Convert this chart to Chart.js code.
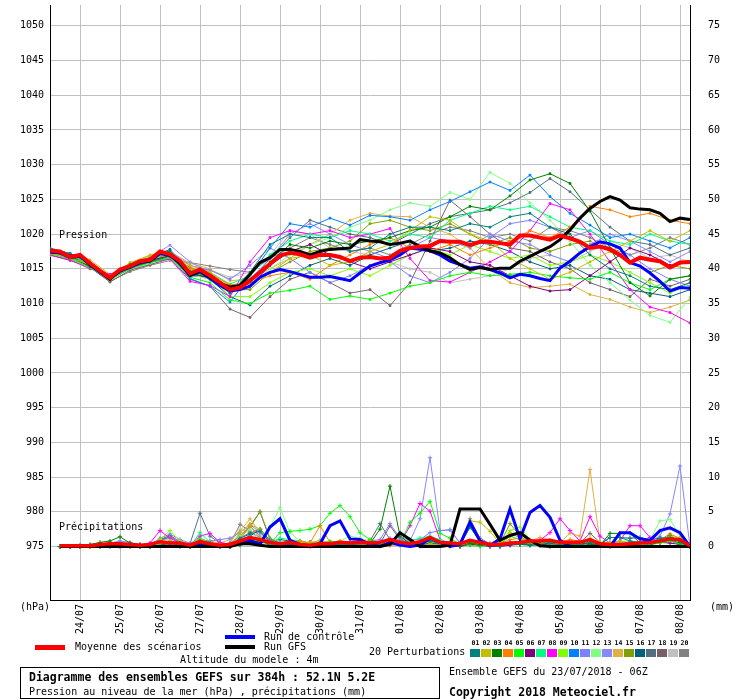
<!DOCTYPE html>
<html>
<head>
<meta charset="utf-8">
<script src="https://cdn.jsdelivr.net/npm/chart.js@4.4.0/dist/chart.umd.min.js"></script>
<style>
body { margin: 0; background: #fff; }
#cadre { position: relative; width: 740px; height: 700px; font-family: "DejaVu Sans Mono", monospace; font-size: 10px; color: #000; }
#cadre canvas { position: absolute; left: 0; top: 0; }
.t { position: absolute; white-space: pre; line-height: 12px; }
.b { font-weight: bold; font-size: 11.5px; line-height: 14px; }
.trait { position: absolute; }
#boite { position: absolute; left: 20px; top: 667px; width: 418px; height: 30px; border: 1px solid #000; }
.num { position: absolute; top: 639px; width: 11px; text-align: center; font-size: 6.5px; font-weight: bold; line-height: 8px; }
.case { position: absolute; top: 649px; width: 10px; height: 8px; }
</style>
</head>
<body>
<div id="cadre">
  <canvas id="graphe" width="740" height="700"></canvas>
  <div class="t" style="left:59px;top:229px">Pression</div>
  <div class="t" style="left:59px;top:521px">Précipitations</div>
  <div class="t" style="left:20px;top:601px">(hPa)</div>
  <div class="t" style="left:710px;top:601px">(mm)</div>
  <div class="trait" style="left:225px;top:635px;width:30px;height:4px;background:#0000ff"></div>
  <div class="t" style="left:264px;top:631px">Run de contrôle</div>
  <div class="trait" style="left:35px;top:645px;width:30px;height:5px;background:#ff0000"></div>
  <div class="t" style="left:75px;top:641px">Moyenne des scénarios</div>
  <div class="trait" style="left:225px;top:645px;width:30px;height:4px;background:#000"></div>
  <div class="t" style="left:264px;top:641px">Run GFS</div>
  <div class="t" style="left:180px;top:654px">Altitude du modele : 4m</div>
  <div class="t" style="left:369px;top:646px">20 Perturbations</div>
  <div id="legende"></div>
  <div id="boite"></div>
  <div class="t b" style="left:29px;top:670px">Diagramme des ensembles GEFS sur 384h : 52.1N 5.2E</div>
  <div class="t" style="left:29px;top:686px">Pression au niveau de la mer (hPa) , précipitations (mm)</div>
  <div class="t" style="left:449px;top:666px">Ensemble GEFS du 23/07/2018 - 06Z</div>
  <div class="t b" style="left:449px;top:685px">Copyright 2018 Meteociel.fr</div>
</div>
<script>
// ===============================
// DONNEES
// ===============================
const jours = ["24/07","25/07","26/07","27/07","28/07","29/07","30/07","31/07",
               "01/08","02/08","03/08","04/08","05/08","06/08","07/08","08/08"];
const heuresJours = [18,42,66,90,114,138,162,186,210,234,258,282,306,330,354,378];
const ticksPression = [975,980,985,990,995,1000,1005,1010,1015,1020,1025,1030,1035,1040,1045,1050];
const ticksPrecip = [0,5,10,15,20,25,30,35,40,45,50,55,60,65,70,75];

// echeances toutes les 6h et toutes les 12h
const heures6 = [0,6,12,18,24,30,36,42,48,54,60,66,72,78,84,90,96,102,108,114,120,126,132,138,144,150,
  156,162,168,174,180,186,192,198,204,210,216,222,228,234,240,246,252,258,264,270,276,282,288,294,
  300,306,312,318,324,330,336,342,348,354,360,366,372,378,384];
const heures12 = [0,12,24,36,48,60,72,84,96,108,120,132,144,156,168,180,192,204,216,228,240,252,264,
  276,288,300,312,324,336,348,360,372,384];

// Moyenne, controle et GFS (pression, 6h)
const presMoyenne = [1017.6,1017.5,1016.7,1017.0,1015.8,1014.7,1013.7,1014.9,1015.4,1016.1,1016.3,1017.5,1017.1,
  1016.1,1014.3,1014.9,1014.0,1013.0,1012.0,1012.3,1013.3,1014.5,1015.7,1016.9,1017.3,1017.1,1016.6,1017.0,
  1017.0,1016.7,1016.1,1016.6,1016.7,1016.5,1016.6,1017.6,1018.0,1018.2,1018.3,1019.0,1018.9,1018.9,1018.4,
  1018.9,1018.9,1018.7,1018.5,1019.8,1019.8,1019.5,1019.2,1019.8,1019.4,1018.9,1018.0,1018.2,1017.8,1017.0,
  1015.9,1016.6,1016.3,1016.1,1015.2,1015.9,1016.0];
const presControle = [1017.4,1017.3,1016.6,1016.8,1015.6,1014.5,1013.6,1014.7,1015.2,1015.9,1016.1,1017.2,1016.9,
  1015.8,1014.0,1014.6,1013.6,1012.6,1011.8,1012.0,1012.5,1013.8,1014.5,1014.9,1014.6,1014.2,1013.8,1013.8,
  1013.9,1013.6,1013.3,1014.4,1015.4,1015.9,1016.3,1017.0,1018.0,1017.8,1017.6,1017.0,1016.1,1015.6,1015.1,
  1015.3,1014.9,1014.4,1013.7,1014.2,1014.0,1013.6,1013.3,1015.1,1016.1,1017.3,1018.2,1018.9,1018.6,1018.0,
  1015.9,1015.4,1014.4,1013.2,1011.8,1012.3,1012.2];
const presGFS = [1017.5,1017.4,1016.8,1016.9,1015.7,1014.6,1013.5,1014.8,1015.3,1016.0,1016.2,1017.4,1017.0,
  1015.9,1014.1,1014.7,1013.8,1012.9,1012.4,1012.6,1014.2,1015.9,1016.6,1017.8,1017.8,1017.5,1017.0,1017.5,
  1017.8,1017.9,1018.0,1019.2,1019.0,1018.9,1018.5,1018.7,1019.0,1018.2,1017.6,1017.3,1016.6,1015.6,1014.9,
  1015.2,1014.9,1015.1,1015.1,1016.1,1016.8,1017.5,1018.2,1019.2,1020.6,1022.3,1023.7,1024.7,1025.4,1024.9,
  1023.8,1023.6,1023.5,1023.0,1021.8,1022.3,1022.1];

// Moyenne, controle et GFS (precipitations, 6h)
const precMoyenne = [null,0.1,0.1,0.1,0.1,0.3,0.4,0.4, 0.3,0.2,0.3,0.7,0.5,0.5,0.2,0.7,
  0.4,0.2,0.3,0.8,1.3,1.0,0.6,0.4, 0.6,0.3,0.2,0.4,0.4,0.6,0.5,0.6, 0.5,0.6,1.0,0.6,0.4,0.7,1.3,0.6,
  0.5,0.4,0.9,0.6,0.3,0.3,0.5,0.6, 0.8,0.8,0.9,0.6,0.6,0.6,1.0,0.4, 0.3,0.3,0.4,0.5,0.6,0.8,1.1,1.0, 0.1];
const precControle = [null,0,0,0,0,0,0,0, 0,0,0,0,0,0,0,0.3,
  0.2,0,0,0.6,0.9,0.3,2.8,4.0, 0.9,0.3,0,0.4,3.0,3.7,1.1,1.0, 0.3,0,0.6,0.2,0,0.2,1.2,0.6,
  0,0.3,3.5,0.8,0.2,1.1,5.4,1.1, 4.9,5.9,4.2,0.9,0,0,0,0, 0,2.0,2.0,1.1,0.9,2.3,2.7,2.0, 0];
const precGFS = [null,0,0,0,0,0,0,0, 0,0,0,0,0,0,0,0,
  0,0,0,0.4,0.4,0.2,0,0, 0,0,0,0,0,0,0,0, 0,0,0.3,2.0,1.0,0,0,0,
  0.2,5.4,5.4,5.4,3.2,0.9,1.6,2.0, 0.9,0.1,0,0,0,0,0,0, 0,0,0,0,0,0,0,0, 0];

// 20 perturbations : pression (12h)
const presP01 = [1018.0,1017.2,1015.8,1013.9,1015.6,1016.5,1017.6,1014.6,1014.0,1011.5,1014.5,
  1018.5,1020.0,1019.5,1019.5,1017.5,1018.0,1020.0,1021.0,1021.0,1020.5,1021.5,
  1021.0,1022.5,1023.0,1021.0,1020.0,1017.0,1015.0,1014.0,1012.5,1012.0,1013.0];
const presP02 = [1017.3,1016.6,1015.6,1013.6,1015.9,1016.9,1017.0,1015.5,1014.5,1012.5,1012.8,
  1014.5,1016.5,1017.0,1015.5,1016.0,1017.5,1018.5,1020.5,1022.5,1022.0,1020.0,
  1019.0,1016.5,1015.0,1013.5,1014.5,1016.0,1017.5,1019.0,1020.5,1019.0,1020.5];
const presP03 = [1017.5,1016.9,1015.3,1013.8,1015.2,1016.0,1016.8,1014.0,1014.2,1012.2,1013.0,
  1016.0,1018.5,1018.0,1019.0,1018.5,1019.0,1019.5,1020.5,1021.0,1022.5,1024.0,
  1023.5,1025.5,1027.8,1028.7,1027.3,1023.3,1018.0,1013.0,1011.1,1013.5,1014.0];
const presP04 = [1017.8,1017.0,1016.0,1014.0,1015.4,1016.6,1017.3,1015.0,1014.3,1012.7,1013.0,
  1014.0,1014.5,1013.5,1015.5,1017.0,1018.5,1019.5,1018.0,1017.5,1018.5,1017.0,
  1018.0,1019.0,1020.5,1019.5,1021.0,1024.0,1023.5,1022.5,1023.0,1022.0,1021.5];
const presP05 = [1017.2,1016.5,1015.2,1013.4,1015.0,1015.9,1016.6,1013.8,1013.0,1010.5,1010.0,
  1011.5,1011.9,1012.5,1010.6,1011.1,1010.6,1011.5,1012.5,1013.0,1014.0,1014.5,
  1014.0,1014.2,1014.5,1014.0,1013.7,1013.5,1014.5,1013.0,1012.0,1013.5,1014.0];
const presP06 = [1017.4,1016.7,1015.4,1013.5,1015.3,1016.2,1016.9,1014.4,1013.7,1011.8,1012.5,
  1015.5,1017.5,1018.5,1017.0,1016.0,1015.0,1016.0,1017.0,1018.0,1017.5,1016.0,
  1015.5,1014.0,1012.5,1011.8,1012.0,1014.0,1016.0,1018.0,1017.0,1015.5,1016.0];
const presP07 = [1017.6,1016.9,1015.7,1013.8,1015.5,1016.4,1017.3,1014.8,1014.5,1012.8,1014.0,
  1017.0,1019.0,1020.0,1019.5,1020.5,1020.0,1019.0,1020.0,1019.5,1022.0,1023.0,
  1024.0,1023.5,1024.0,1022.5,1021.0,1020.5,1019.0,1018.5,1020.0,1019.0,1018.5];
const presP08 = [1017.0,1016.3,1015.0,1014.2,1015.2,1016.0,1016.4,1013.2,1012.6,1011.0,1016.0,
  1019.5,1020.5,1020.0,1020.5,1019.5,1020.0,1020.8,1016.5,1013.3,1013.1,1014.5,
  1016.0,1017.5,1020.5,1024.4,1023.5,1020.0,1016.0,1012.0,1009.5,1008.7,1007.2];
const presP09 = [1017.5,1016.7,1015.4,1013.7,1015.6,1016.4,1016.9,1014.7,1013.9,1011.0,1011.0,
  1013.0,1014.5,1015.0,1014.0,1015.0,1014.0,1015.5,1017.0,1018.0,1017.0,1018.5,
  1017.5,1016.5,1017.0,1015.5,1016.0,1017.0,1016.0,1014.5,1013.0,1011.5,1013.0];
const presP10 = [1017.9,1017.2,1015.8,1013.9,1015.3,1016.1,1017.0,1013.6,1012.5,1010.2,1014.0,
  1018.0,1021.5,1021.0,1022.3,1021.3,1022.7,1022.5,1022.0,1023.5,1024.7,1026.1,
  1027.5,1026.3,1028.5,1025.4,1023.0,1021.3,1019.5,1020.0,1019.0,1018.0,1019.5];
const presP11 = [1017.3,1016.5,1015.6,1013.5,1015.0,1016.0,1017.5,1015.5,1014.8,1013.5,1015.5,
  1018.0,1016.5,1014.5,1013.0,1014.0,1015.5,1016.0,1014.0,1013.0,1014.5,1016.5,
  1019.5,1021.5,1022.0,1021.0,1019.5,1020.5,1018.5,1017.0,1015.0,1013.5,1012.5];
const presP12 = [1017.1,1016.4,1015.1,1013.6,1015.1,1015.8,1016.6,1014.2,1013.5,1011.5,1012.5,
  1015.0,1017.0,1018.5,1019.5,1021.0,1022.0,1023.5,1024.5,1024.0,1026.0,1025.0,
  1028.9,1027.3,1024.5,1022.0,1019.0,1015.5,1013.0,1010.5,1008.3,1007.3,1010.9];
const presP13 = [1017.7,1016.8,1015.5,1013.8,1015.7,1016.7,1018.4,1016.0,1014.5,1012.0,1013.5,
  1016.5,1020.0,1021.5,1020.0,1018.5,1017.5,1016.5,1018.0,1019.5,1019.0,1018.0,
  1020.0,1019.0,1018.5,1017.0,1016.0,1018.5,1020.0,1019.0,1017.5,1016.0,1017.5];
const presP14 = [1017.9,1017.2,1016.3,1014.2,1015.8,1017.0,1017.5,1015.8,1015.0,1013.3,1013.5,
  1015.0,1016.5,1018.5,1020.0,1022.0,1023.0,1022.6,1022.5,1021.0,1020.0,1018.0,
  1015.0,1013.0,1012.3,1012.5,1012.8,1011.3,1010.6,1009.5,1008.7,1009.5,1010.5];
const presP15 = [1017.3,1016.6,1015.5,1013.7,1015.2,1016.3,1017.0,1015.2,1014.0,1012.0,1012.0,
  1014.5,1016.0,1017.5,1018.0,1019.0,1021.5,1022.0,1021.0,1020.5,1021.5,1020.0,
  1018.5,1019.5,1018.0,1017.5,1018.5,1019.0,1017.5,1016.0,1014.5,1015.5,1015.0];
const presP16 = [1017.6,1016.9,1015.6,1013.5,1015.5,1016.6,1017.8,1014.5,1013.5,1011.0,1009.8,
  1012.5,1014.0,1015.5,1016.5,1015.5,1017.0,1018.0,1019.0,1017.5,1018.0,1019.0,
  1018.5,1017.5,1016.0,1015.0,1015.5,1014.0,1013.5,1012.0,1011.5,1011.0,1012.0];
const presP17 = [1017.4,1016.7,1015.4,1013.6,1015.4,1016.2,1017.2,1014.0,1013.8,1011.5,1013.0,
  1016.5,1019.5,1022.0,1021.0,1020.0,1019.5,1018.5,1020.0,1021.5,1022.5,1023.0,
  1023.5,1024.5,1026.0,1028.0,1026.1,1023.5,1021.0,1019.0,1018.5,1017.0,1018.0];
const presP18 = [1017.0,1016.2,1015.2,1013.1,1014.8,1015.6,1016.5,1013.5,1012.5,1009.2,1008.0,
  1011.0,1013.5,1014.5,1013.0,1011.5,1012.0,1009.7,1013.0,1019.0,1024.9,1022.5,
  1020.0,1018.0,1017.5,1016.0,1015.0,1013.0,1012.0,1011.0,1013.5,1012.5,1013.5];
const presP19 = [1016.9,1016.3,1015.3,1013.9,1014.9,1015.7,1016.3,1015.2,1014.8,1013.8,1014.5,
  1017.0,1020.5,1020.0,1018.0,1017.5,1017.0,1016.0,1015.0,1014.5,1013.0,1013.5,
  1014.0,1015.0,1016.5,1017.0,1016.0,1017.5,1019.0,1018.0,1016.5,1017.0,1016.0];
const presP20 = [1017.2,1016.5,1015.2,1013.2,1014.6,1015.5,1016.2,1015.9,1015.4,1014.9,1014.5,
  1016.5,1018.0,1019.5,1018.5,1017.5,1018.0,1017.0,1018.5,1020.0,1021.0,1020.5,
  1019.5,1020.0,1019.0,1021.0,1020.5,1019.5,1018.0,1017.0,1018.0,1019.5,1018.5];

// 20 perturbations : precipitations (6h)
const precP01 = [null,0,0,0,0.2,0.3,0.5,0.4, 0.2,0,0.1,0.6,0.5,0.2,0,0.8, 0.5,0,0,1.2,1.8,2.2,0.6,0.3,
  0.5,0.2,0,0.2,0.5,0.3,0.2,0.5, 0.3,0.2,0.6,0.4,0.2,0.4,0.8,0.5, 0.3,0.2,2.8,0.8,0.2,0,0.6,0.5,
  0.3,0.2,0.4,0.3,0.5,0.2,0.6,0.3, 1.3,1.3,0.8,0.6,0.5,1.2,1.3,0.8, 0];
const precP02 = [null,0,0,0,0,0,0.2,0.1, 0,0,0,0.4,0.8,0.3,0,0.5, 0.3,0,0.2,2.0,3.2,2.5,0.5,0.3,
  0.8,0.6,0.5,0.9,0.6,0.8,0.5,0.4, 0.2,0,0.3,0.5,0.2,0,0.4,0.2, 0.2,0.5,3.7,3.5,2.2,0.4,2.0,1.2,
  0.5,0.2,0.3,0.2,0.8,0.4,1.2,0.5, 0.6,0.8,0.5,0.3,0.4,0.8,1.5,1.2, 0];
const precP03 = [null,0,0,0.2,0.3,0.6,0.8,1.4, 0.5,0.3,0,0.3,0.5,0.2,0,0.4, 0.3,0,0,0.2,0.5,0.8,0.4,0.3,
  0.5,0.4,0.2,0.3,0.2,0.5,0.3,0.2, 0.4,2.5,8.7,1.5,0.4,0.2,0.5,0.3, 0.2,0,0.5,0.3,0.2,0.1,0.4,0.3,
  0.2,0.3,0.5,0.2,0.3,0.5,0.4,0.2, 1.9,1.9,1.9,0.5,0.2,0.8,1.6,0.6, 0];
const precP04 = [null,0,0,0,0,0.1,0.3,0.2, 0,0,0,0.8,0.6,0.2,0,0.5, 0.3,0.1,0,1.0,3.0,1.2,0.4,0.2,
  0.6,0.8,0.5,3.0,0.6,0.5,0.4,0.3, 0.5,0.3,0.2,0.2,0.3,0.4,0.3,0.2, 0,0.1,0.5,0.3,0.2,0.4,1.0,1.2,
  0.8,0.4,0.2,0.6,1.0,0.8,0.5,0.4, 0.3,0.2,0.5,0.6,0.4,1.0,1.8,1.2, 0];
const precP05 = [null,0,0,0,0,0,0.1,0.3, 0.2,0,0,0.5,0.6,0.3,0,1.0, 0.5,0.2,0,0.6,0.8,1.0,0.4,2.0,
  2.2,2.3,2.5,3.0,4.8,5.9,4.3,2.0, 1.0,0.5,0.4,0.3,3.5,4.8,6.5,1.9, 1.2,0.3,0.2,0,0.2,0.3,1.5,1.0,
  0.3,0.2,0.4,0.2,0.3,0.2,0.5,0.3, 0.2,0.4,0.3,0.2,0.3,0.5,0.8,0.4, 0];
const precP06 = [null,0,0,0,0,0,0,0, 0,0,0,0.3,0.2,0,0,0.3, 0.2,0,0,0.4,0.6,0.8,0.3,0.2,
  0.3,0.5,0.6,0.3,0.2,0.4,0.6,0.8, 0.5,0.3,0.2,0.6,0.3,0.2,0.4,0.3, 0.2,0,0.3,0.2,0,0,0.2,0.3,
  0.4,0.2,0,0.3,0.2,0.5,0.3,0.2, 0,0.2,0.4,0.2,0.3,0.6,0.5,0.3, 0];
const precP07 = [null,0,0,0,0,0.2,0.2,0.3, 0.2,0,0,0.5,0.8,0.3,0,2.0, 0.6,0.2,0,0.5,1.5,1.0,0.4,1.2,
  1.0,0.8,0.5,0.6,0.8,0.6,0.5,0.4, 0.3,0.2,0.5,0.3,0.8,1.2,1.5,1.0, 0.4,0.3,0.5,0.2,0,0.2,0.3,0.4,
  0.5,0.4,0.3,0.2,0.5,0.6,0.4,0.3, 0.5,0.4,0.6,0.3,0.5,1.0,1.5,0.8, 0];
const precP08 = [null,0,0,0,0,0.1,0.2,0.3, 0.3,0.2,0.5,2.3,1.2,0.5,0.3,1.5, 1.9,0.6,0.3,1.0,1.5,0.8,0.5,0.3,
  0.4,0.6,0.5,0.3,0.4,0.5,0.3,0.4, 0.3,0.2,0.5,0.4,3.0,6.2,5.1,1.0, 0.5,0.2,0.4,0.3,0.2,0.3,0.2,0.5,
  0.6,0.9,2.0,4.0,2.3,0.8,4.3,1.5, 0.5,0.8,3.0,3.0,1.3,0.6,0.8,0.5, 0];
const precP09 = [null,0,0,0,0,0,0.2,0.2, 0.1,0,0.2,1.0,2.3,0.8,0.3,1.2, 0.5,0.3,0.2,0.8,1.0,0.6,0.3,0.5,
  0.8,0.6,0.5,0.4,0.6,0.3,0.2,0.4, 0.5,0.3,0.8,0.5,0.3,0.6,0.5,0.3, 0.2,0.3,0.6,0.4,0.2,0.3,2.3,2.8,
  1.0,0.5,0.3,0.4,0.3,0.2,0.4,0.3, 0.2,0.3,0.4,0.3,0.5,0.8,1.2,0.6, 0];
const precP10 = [null,0,0,0,0,0,0.1,0.2, 0.1,0,0,0.3,0.5,0.4,0,0.6, 0.3,0.2,0,0.5,1.2,0.8,0.3,0.6,
  0.4,0.3,0.2,0.3,0.4,0.2,0.3,0.2, 0.3,0.5,0.4,0.2,0.3,0.6,0.8,0.4, 0.3,0.2,0.5,0.4,0.2,0.2,0.3,0.4,
  0.2,0.3,0.2,0.4,0.6,0.3,0.2,0.3, 0.2,0.4,0.5,0.3,0.4,0.6,0.8,0.5, 0];
const precP11 = [null,0,0,0,0.1,0.3,0.5,0.8, 0.6,0.3,0.2,1.2,1.8,1.0,0.5,1.0, 0.8,1.0,1.2,2.0,3.2,2.0,0.8,0.5,
  0.6,0.4,0.3,0.5,0.4,0.3,0.5,0.6, 0.8,1.0,3.3,1.2,1.0,1.0,2.0,2.3, 2.4,0.5,0.3,0.2,0.4,0.6,0.5,0.3,
  0.4,0.6,0.5,0.3,0.2,0.3,0.5,0.4, 0.3,0.4,0.6,0.5,0.4,0.8,1.2,0.6, 0];
const precP12 = [null,0,0,0,0,0.1,0.3,0.2, 0.2,0,0.2,0.6,1.2,0.5,0.3,0.8, 0.6,0.3,0.2,1.5,2.5,1.2,2.8,5.6,
  2.0,0.8,0.6,0.4,0.6,0.8,1.5,1.2, 0.6,0.5,0.8,0.4,0.3,0.5,0.6,0.4, 0.3,0.2,0.5,0.4,0.2,0.3,0.5,0.6,
  0.4,0.5,0.3,0.4,0.6,0.5,0.4,0.3, 0.5,0.6,0.8,0.5,1.0,3.7,3.9,1.5, 0];
const precP13 = [null,0,0,0,0,0.2,0.4,0.6, 0.4,0.2,0.3,0.8,1.2,0.8,0.3,0.7, 0.5,0.3,0.4,1.2,3.0,1.5,0.6,0.4,
  0.5,0.3,0.4,0.6,0.5,0.4,0.3,0.5, 0.6,0.8,1.2,1.0,0.8,4.0,12.8,2.3, 2.4,0.5,0.3,0.4,0.2,0.3,0.4,0.5,
  0.3,0.4,0.5,0.3,0.4,0.5,0.6,0.4, 0.3,0.5,0.6,0.4,0.8,1.5,4.7,11.6, 0];
const precP14 = [null,0,0,0,0,0.1,0.2,0.3, 0.2,0,0,0.8,0.6,0.3,0,0.5, 0.8,0.5,1.0,2.2,4.0,2.0,0.6,0.3,
  0.5,0.4,0.6,0.8,0.5,0.6,0.5,0.8, 1.0,0.6,0.4,0.3,0.2,0.5,0.4,0.3, 0.2,0.3,0.5,0.6,0.4,0.3,0.4,0.5,
  0.8,1.3,0.9,0.6,1.9,1.5,11.1,0.6, 0.5,0.4,0.6,0.5,0.8,2.3,2.6,1.8, 0];
const precP15 = [null,0,0,0,0,0,0.2,0.3, 0.2,0,0,0.5,0.8,0.4,0.2,0.8, 0.5,0.2,0.3,1.5,3.0,5.0,1.2,0.5,
  0.6,0.4,0.3,0.5,0.6,0.4,0.3,0.5, 0.4,0.3,0.6,0.5,0.3,0.4,0.5,0.3, 0.2,0.4,0.6,0.5,0.3,0.4,3.3,1.5,
  0.6,0.4,0.3,0.5,0.4,0.3,0.5,0.4, 0.3,0.4,0.5,0.6,0.4,0.8,1.5,0.8, 0];
const precP16 = [null,0,0,0,0,0,0.1,0.2, 0.1,0,0,0.4,0.5,0.2,0,0.8, 0.5,0.3,0.2,1.0,1.5,2.5,0.8,1.0,
  0.8,0.5,0.4,0.3,0.5,0.4,0.3,0.4, 0.3,0.5,0.4,0.3,0.2,0.5,0.4,0.3, 0.2,0.3,2.8,0.8,0.3,0.2,0.4,0.5,
  0.3,0.4,0.6,0.3,0.4,0.5,0.4,0.3, 1.3,1.3,1.2,1.3,1.0,1.2,1.3,0.8, 0];
const precP17 = [null,0,0,0,0,0.2,0.4,0.3, 0.2,0.1,0.3,1.0,1.3,0.6,0.4,4.8, 1.5,0.5,0.4,1.5,2.8,5.0,1.0,0.5,
  0.6,0.5,0.4,0.3,0.5,0.6,0.4,0.5, 0.8,3.3,1.0,0.5,0.4,0.6,0.5,0.3, 0.2,0.3,0.6,0.5,0.3,0.2,0.4,0.6,
  0.5,0.4,0.3,0.4,0.5,0.6,0.5,0.4, 0.3,0.4,0.5,0.4,0.6,0.8,1.0,0.5, 0];
const precP18 = [null,0,0,0,0,0.2,0.3,0.4, 0.3,0.1,0.4,1.0,1.6,0.7,0.3,0.6, 0.4,0.3,0.5,1.2,2.0,2.5,0.8,0.5,
  0.6,0.4,0.5,0.3,0.5,0.4,0.3,0.5, 0.6,0.4,3.0,1.0,0.5,0.4,0.6,0.3, 0.2,0.4,0.5,0.3,0.2,0.4,0.5,0.4,
  0.3,0.5,0.6,0.8,0.6,0.5,1.9,0.6, 0.4,0.3,0.5,0.4,0.6,0.7,0.8,0.4, 0];
const precP19 = [null,0,0,0,0,0.1,0.2,0.3, 0.2,0,0.2,0.5,0.8,0.4,0.2,0.6, 0.4,0.3,0.5,2.5,2.0,1.0,0.4,0.3,
  0.4,0.3,0.2,0.3,0.4,0.3,0.2,0.4, 0.5,0.3,0.4,0.3,0.2,0.4,0.3,0.2, 0.3,0.2,0.4,0.3,0.2,0.3,0.4,0.3,
  0.2,0.3,0.4,0.3,0.5,0.4,0.3,0.2, 0.3,0.4,0.3,0.5,0.4,0.6,0.8,0.4, 0];
const precP20 = [null,0,0,0,0,0.2,0.3,0.3, 0.2,0.1,0.3,0.8,1.5,0.6,0.3,1.2, 0.6,0.3,0.4,3.2,2.2,1.2,0.5,0.4,
  0.5,0.4,0.3,0.5,0.4,0.6,0.5,0.4, 0.3,0.5,0.6,0.4,0.3,0.5,0.4,0.3, 0.2,0.3,4.0,1.2,0.4,0.3,0.5,0.4,
  0.3,0.4,0.5,0.6,0.8,0.6,0.4,0.3, 0.4,0.5,0.6,0.4,0.5,0.8,1.0,0.5, 0];

const couleursPert = ["#008080","#c0c000","#008000","#ff8000","#00ff00","#800080","#00ff80","#ff00ff",
  "#80ff00","#0080ff","#8080ff","#80ff80","#8888ff","#e0b040","#80a000","#006080","#507080","#786068",
  "#c0c0c0","#808080"];
const numerosPert = ["01","02","03","04","05","06","07","08","09","10",
  "11","12","13","14","15","16","17","18","19","20"];

const presPert = [presP01,presP02,presP03,presP04,presP05,presP06,presP07,presP08,presP09,presP10,
  presP11,presP12,presP13,presP14,presP15,presP16,presP17,presP18,presP19,presP20];
const precPert = [precP01,precP02,precP03,precP04,precP05,precP06,precP07,precP08,precP09,precP10,
  precP11,precP12,precP13,precP14,precP15,precP16,precP17,precP18,precP19,precP20];

// ===============================
// LEGENDE DES PERTURBATIONS
// ===============================
const legende = document.getElementById("legende");
numerosPert.forEach((n, i) => {
    const num = document.createElement("div");
    num.className = "num";
    num.style.left = (470 + i * 11) + "px";
    num.textContent = n;
    legende.appendChild(num);
    const c = document.createElement("div");
    c.className = "case";
    c.style.left = (470 + i * 11) + "px";
    c.style.background = couleursPert[i];
    legende.appendChild(c);
});

// ===============================
// SERIES
// ===============================
function serie(xs, ys, axe, couleur, epaisseur, style, rayon) {
    return {
        data: xs.map((h, i) => ({ x: h, y: ys[i] })),
        yAxisID: axe,
        borderColor: couleur,
        backgroundColor: couleur,
        borderWidth: epaisseur,
        pointStyle: style || false,
        pointRadius: rayon || 0,
        pointBorderWidth: 1,
        tension: 0,
        fill: false
    };
}

// le premier jeu est dessine au-dessus
const jeux = [
    serie(heures6, presMoyenne, "y", "#ff0000", 4),
    serie(heures6, precMoyenne, "yP", "#ff0000", 3.5),
    serie(heures6, presGFS, "y", "#000000", 3),
    serie(heures6, precGFS, "yP", "#000000", 3),
    serie(heures6, presControle, "y", "#0000ff", 3),
    serie(heures6, precControle, "yP", "#0000ff", 3)
];
presPert.forEach((p, i) => jeux.push(serie(heures12, p, "y", couleursPert[i], 1, "rect", 1.2)));
precPert.forEach((p, i) => jeux.push(serie(heures6, p, "yP", couleursPert[i], 1, "cross", 2.2)));

// ===============================
// GRAPHIQUE
// ===============================
const police = { family: "DejaVu Sans Mono", size: 10 };

new Chart(document.getElementById("graphe"), {
    type: "line",
    data: { datasets: jeux },
    options: {
        responsive: false,
        animation: false,
        layout: { padding: 0 },
        plugins: { legend: { display: false }, tooltip: { enabled: false } },
        scales: {
            x: {
                type: "linear", min: 0, max: 384,
                afterBuildTicks: s => { s.ticks = heuresJours.map(v => ({ value: v })); },
                afterFit: s => { s.height = 100; s.paddingLeft = 0; s.paddingRight = 0; },
                grid: { color: "#c0c0c0", drawTicks: false },
                border: { color: "#000" },
                ticks: {
                    autoSkip: false, minRotation: 90, maxRotation: 90, padding: 4,
                    color: "#000", font: police,
                    callback: v => jours[heuresJours.indexOf(v)]
                }
            },
            y: {
                position: "left", min: 967.3, max: 1053,
                afterBuildTicks: s => { s.ticks = ticksPression.map(v => ({ value: v })); },
                afterFit: s => { s.width = 50; s.paddingTop = 0; s.paddingBottom = 0; },
                grid: { color: "#c0c0c0", drawTicks: false },
                border: { color: "#000" },
                ticks: { padding: 6, color: "#000", font: police, callback: v => String(v) }
            },
            yP: {
                position: "right", min: -7.7, max: 78,
                afterBuildTicks: s => { s.ticks = ticksPrecip.map(v => ({ value: v })); },
                afterFit: s => { s.width = 50; s.paddingTop = 0; s.paddingBottom = 0; },
                grid: { display: false, drawTicks: false },
                border: { color: "#000" },
                ticks: { padding: 18, color: "#000", font: police, callback: v => String(v) }
            }
        }
    }
});
</script>
</body>
</html>
